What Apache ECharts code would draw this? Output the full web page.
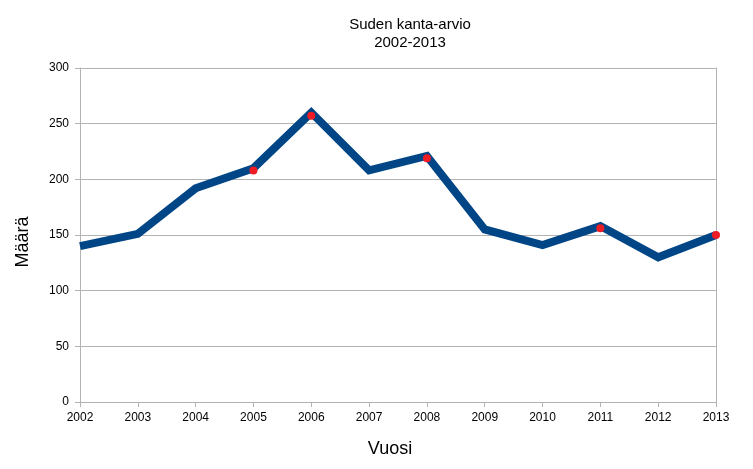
<!DOCTYPE html>
<html>
<head>
<meta charset="utf-8">
<script src="https://cdn.jsdelivr.net/npm/echarts@6/dist/echarts.min.js"></script>
<style>html,body{margin:0;padding:0;background:#fff}#c{width:753px;height:469px}</style>
</head>
<body>
<div id="c"></div>
<script>
var years = ['2002','2003','2004','2005','2006','2007','2008','2009','2010','2011','2012','2013'];
var estimate = [140, 151, 192, 210, 260, 208, 221, 155, 141, 158, 130, 150];
var marks = [null, null, null, 208, 257, null, 219, null, null, 156, null, 150];
var yTicks = {min: 0, max: 300, interval: 50};

var chart = echarts.init(document.getElementById('c'), null, {renderer: 'canvas'});
var font = 'Liberation Sans, Arial, sans-serif';
chart.setOption({
  animation: false,
  backgroundColor: '#ffffff',
  title: {
    text: 'Suden kanta-arvio\n2002-2013',
    left: 405, top: 11, textAlign: 'center',
    textStyle: {fontFamily: font, fontSize: 15, fontWeight: 'normal', color: '#000', lineHeight: 18}
  },
  graphic: [{
    type: 'text', x: 23, y: 242, rotation: Math.PI / 2,
    style: {text: 'Määrä', font: '18px ' + font, fill: '#000', textAlign: 'center', textVerticalAlign: 'middle'}
  }, {
    type: 'text', x: 390, y: 449,
    style: {text: 'Vuosi', font: '18px ' + font, fill: '#000', textAlign: 'center', textVerticalAlign: 'middle'}
  }],
  grid: {left: 80, right: 37, top: 68, bottom: 67, containLabel: false},
  xAxis: {
    type: 'category', data: years, boundaryGap: false,
    axisLine: {lineStyle: {color: '#b3b3b3', width: 1}},
    axisTick: {show: true, alignWithLabel: true, length: 5, lineStyle: {color: '#b3b3b3'}},
    axisLabel: {fontFamily: font, fontSize: 12, color: '#000', margin: 10},
    splitLine: {show: false}
  },
  yAxis: [{
    type: 'value', min: yTicks.min, max: yTicks.max, interval: yTicks.interval,
    axisLine: {show: true, lineStyle: {color: '#b3b3b3', width: 1}},
    axisTick: {show: true, length: 5, lineStyle: {color: '#b3b3b3'}},
    axisLabel: {fontFamily: font, fontSize: 12, color: '#000', margin: 11},
    splitLine: {show: true, lineStyle: {color: '#b3b3b3', width: 1}}
  }, {
    type: 'value', position: 'right', min: yTicks.min, max: yTicks.max, interval: yTicks.interval,
    axisLine: {show: true, lineStyle: {color: '#b3b3b3', width: 1}},
    axisTick: {show: false}, axisLabel: {show: false}, splitLine: {show: false}
  }],
  series: [{
    type: 'line', data: estimate, yAxisIndex: 0,
    lineStyle: {color: '#004586', width: 8, join: 'miter'},
    itemStyle: {color: '#004586'},
    showSymbol: false, symbol: 'none', z: 2
  }, {
    type: 'line', data: marks, yAxisIndex: 0,
    lineStyle: {width: 0, opacity: 0},
    symbol: 'circle', symbolSize: 8, showSymbol: true, connectNulls: false,
    itemStyle: {color: '#ee1c25'}, z: 3
  }]
});
</script>
</body>
</html>
